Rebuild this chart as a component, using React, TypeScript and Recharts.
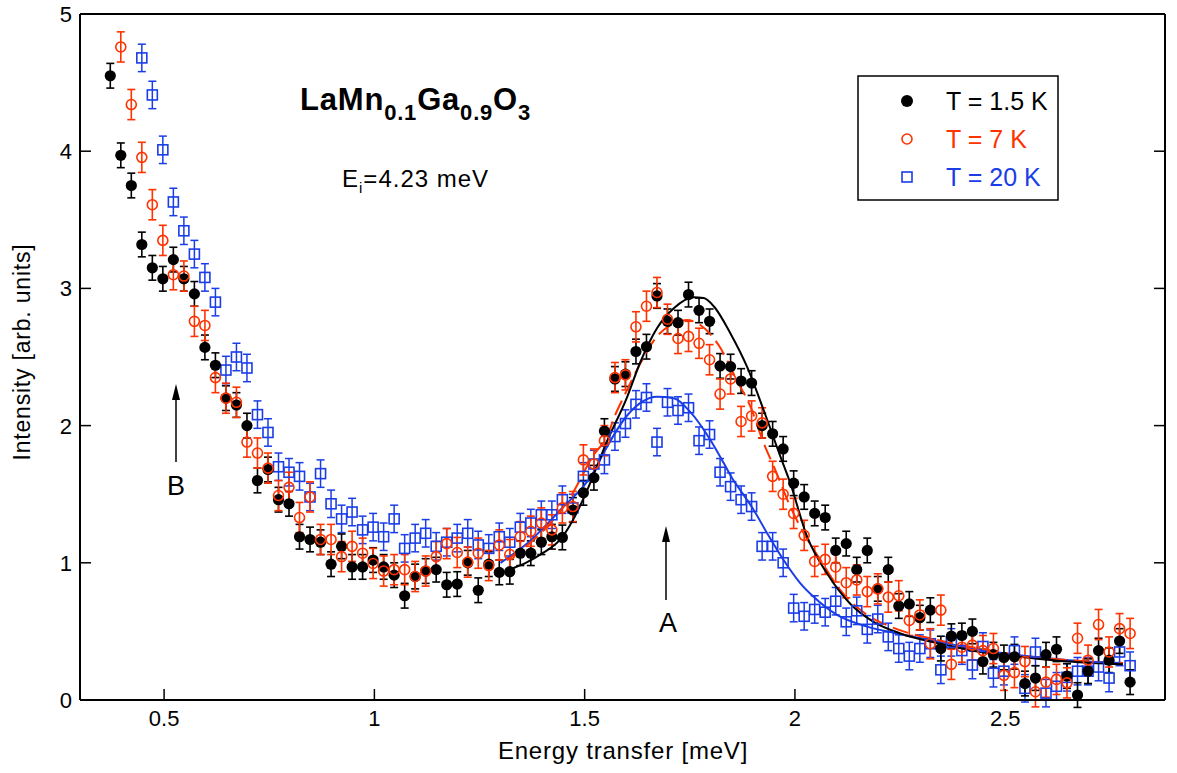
import React from 'react';
import { ComposedChart, Scatter, Line, XAxis, YAxis, ErrorBar } from 'recharts';

// energy grid (meV), shared by the three temperatures
const energy = [
  0.372, 0.397, 0.422, 0.447, 0.472, 0.497, 0.522, 0.547, 0.572, 0.597,
  0.622, 0.647, 0.672, 0.697, 0.722, 0.747, 0.772, 0.797, 0.822, 0.847,
  0.872, 0.897, 0.922, 0.947, 0.972, 0.997, 1.022, 1.047, 1.072, 1.097,
  1.122, 1.147, 1.172, 1.197, 1.222, 1.247, 1.272, 1.297, 1.322, 1.347,
  1.372, 1.397, 1.422, 1.447, 1.472, 1.497, 1.522, 1.547, 1.572, 1.597,
  1.622, 1.647, 1.672, 1.697, 1.722, 1.747, 1.772, 1.797, 1.822, 1.847,
  1.872, 1.897, 1.922, 1.947, 1.972, 1.997, 2.022, 2.047, 2.072, 2.097,
  2.122, 2.147, 2.172, 2.197, 2.222, 2.247, 2.272, 2.297, 2.322, 2.347,
  2.372, 2.397, 2.422, 2.447, 2.472, 2.497, 2.522, 2.547, 2.572, 2.597,
  2.622, 2.647, 2.672, 2.697, 2.722, 2.747, 2.772, 2.797,
];

// T = 1.5 K, starts at energy[0]
const intensity15K = [
  4.55, 3.97, 3.75, 3.32, 3.15, 3.07, 3.21, 3.07, 2.96, 2.57,
  2.44, 2.2, 2.15, 2.0, 1.6, 1.68, 1.46, 1.43, 1.19, 1.17,
  1.15, 0.99, 1.12, 0.97, 0.97, 1.02, 0.97, 0.91, 0.76, 0.9,
  0.94, 0.95, 0.84, 0.845, 1.0, 0.8, 0.99, 0.93, 0.935, 1.07,
  1.07, 1.15, 1.19, 1.185, 1.385, 1.51, 1.62, 1.96, 2.34, 2.375,
  2.54, 2.575, 2.945, 2.76, 2.75, 2.955, 2.84, 2.76, 2.435, 2.43,
  2.325, 2.31, 2.0, 1.94, 1.83, 1.58, 1.48, 1.36, 1.33, 1.09,
  1.14, 0.95, 1.09, 0.81, 0.95, 0.685, 0.7, 0.6, 0.655, 0.375,
  0.465, 0.47, 0.5, 0.28, 0.33, 0.31, 0.315, 0.12, 0.16, 0.33,
  0.37, 0.175, 0.036, 0.21, 0.36, 0.29, 0.43, 0.13,
];

// T = 7 K, starts at energy[1]
const intensity7K = [
  4.76, 4.34, 3.955, 3.61, 3.35, 3.1, 3.09, 2.76, 2.73,
  2.35, 2.2, 2.17, 1.88, 1.8, 1.69, 1.49, 1.55, 1.33, 1.48,
  1.17, 1.17, 1.045, 1.12, 1.07, 0.995, 0.94, 0.95, 0.95, 0.9,
  0.94, 1.045, 1.14, 1.075, 1.005, 1.07, 0.98, 1.13, 1.06, 1.19,
  1.23, 1.29, 1.24, 1.4, 1.41, 1.75, 1.72, 1.89, 2.35, 2.37,
  2.72, 2.87, 2.97, 2.775, 2.635, 2.65, 2.6, 2.48, 2.23, 2.34,
  2.03, 2.07, 2.02, 1.63, 1.5, 1.36, 1.2, 1.01, 1.025, 0.97,
  0.855, 0.875, 0.79, 0.81, 0.75, 0.76, 0.58, 0.62, 0.41, 0.655,
  0.26, 0.385, 0.4, 0.36, 0.375, 0.18, 0.2, 0.28, 0.06, 0.13,
  0.15, 0.125, 0.45, 0.29, 0.55, 0.35, 0.52, 0.485,
];

// T = 20 K, starts at energy[3]
const intensity20K = [
  4.68, 4.41, 4.01, 3.63, 3.42, 3.25, 3.08,
  2.9, 2.405, 2.5, 2.42, 2.08, 1.95, 1.7, 1.66, 1.63, 1.48,
  1.65, 1.43, 1.32, 1.37, 1.24, 1.26, 1.19, 1.32, 1.105, 1.18,
  1.215, 1.12, 1.15, 1.18, 1.215, 1.13, 1.105, 1.19, 1.15, 1.26,
  1.29, 1.35, 1.35, 1.46, 1.4, 1.63, 1.72, 1.75, 1.92, 2.015,
  2.155, 2.205, 1.88, 2.17, 2.11, 2.13, 1.89, 1.935, 1.66, 1.555,
  1.46, 1.41, 1.12, 1.12, 1.0, 0.67, 0.61, 0.66, 0.64, 0.72,
  0.57, 0.65, 0.515, 0.59, 0.46, 0.375, 0.32, 0.375, 0.41, 0.22,
  0.42, 0.36, 0.255, 0.39, 0.195, 0.21, 0.36, 0.085, 0.35, 0.05,
  0.1, 0.165, 0.21, 0.21, 0.24, 0.16, 0.35, 0.25,
];

const err15K = 0.09;
const err7K = 0.11;
const err20K = 0.1;

// fitted curves
const fit15KE = [1.32, 1.36, 1.4, 1.442, 1.47, 1.499, 1.525, 1.551, 1.6, 1.632, 1.672, 1.712, 1.759, 1.783, 1.807, 1.847, 1.886, 1.926, 1.966, 1.989, 2.029, 2.077, 2.132, 2.187, 2.251, 2.346, 2.441, 2.55, 2.65, 2.78];
const fit15KI = [0.95, 1.0, 1.07, 1.17, 1.3, 1.48, 1.67, 1.87, 2.2, 2.46, 2.71, 2.855, 2.935, 2.93, 2.87, 2.67, 2.43, 2.11, 1.77, 1.58, 1.19, 0.92, 0.7, 0.57, 0.485, 0.41, 0.35, 0.31, 0.28, 0.26];

const fit7KE = [1.315, 1.395, 1.466, 1.521, 1.553, 1.573, 1.593, 1.632, 1.672, 1.712, 1.743, 1.775, 1.82, 1.862, 1.894, 1.926, 1.95, 1.989, 2.021, 2.061, 2.108, 2.172, 2.227, 2.35, 2.45, 2.55, 2.65, 2.78];
const fit7KI = [1.02, 1.215, 1.48, 1.785, 1.92, 2.08, 2.21, 2.45, 2.65, 2.745, 2.77, 2.733, 2.58, 2.33, 2.14, 1.87, 1.7, 1.41, 1.215, 1.02, 0.8, 0.62, 0.535, 0.43, 0.37, 0.32, 0.29, 0.27];

const fit20KE = [1.3, 1.363, 1.442, 1.521, 1.545, 1.6, 1.64, 1.671, 1.712, 1.751, 1.799, 1.831, 1.851, 1.87, 1.902, 1.934, 1.973, 2.013, 2.045, 2.1, 2.172, 2.243, 2.35, 2.45, 2.55, 2.65, 2.78];
const fit20KI = [1.0, 1.14, 1.385, 1.66, 1.8, 2.07, 2.18, 2.21, 2.2, 2.1, 1.895, 1.725, 1.615, 1.53, 1.385, 1.215, 1.02, 0.85, 0.75, 0.62, 0.535, 0.485, 0.42, 0.36, 0.32, 0.29, 0.27];

const xTicks = [0.5, 1, 1.5, 2, 2.5];
const yTicks = [0, 1, 2, 3, 4, 5];

const BLACK = '#000000';
const RED = '#ff3300';
const BLUE = '#1a3de8';
const FONT = '"Liberation Sans", Arial, Helvetica, sans-serif';

const points = (vals: number[], start: number, err: number) =>
  vals.map((v, k) => ({ e: energy[start + k], v, err }));
const curve = (es: number[], vs: number[]) => es.map((e, k) => ({ e, v: vs[k] }));

const data15K = points(intensity15K, 0, err15K);
const data7K = points(intensity7K, 1, err7K);
const data20K = points(intensity20K, 3, err20K);

const BottomTick = (p: any) => (
  <g>
    <line x1={p.x} y1={p.y} x2={p.x} y2={p.y - 11} stroke={BLACK} strokeWidth={1.5} />
    <text x={p.x} y={p.y + 26} textAnchor="middle" fontSize={22} fontFamily={FONT} fill={BLACK}>
      {String(p.payload.value)}
    </text>
  </g>
);
const TopTick = (p: any) => (
  <line x1={p.x} y1={p.y} x2={p.x} y2={p.y + 11} stroke={BLACK} strokeWidth={1.5} />
);
const LeftTick = (p: any) => (
  <g>
    <line x1={p.x} y1={p.y} x2={p.x + 11} y2={p.y} stroke={BLACK} strokeWidth={1.5} />
    <text x={p.x - 8} y={p.y + 8} textAnchor="end" fontSize={22} fontFamily={FONT} fill={BLACK}>
      {String(p.payload.value)}
    </text>
  </g>
);
const RightTick = (p: any) => (
  <line x1={p.x} y1={p.y} x2={p.x - 11} y2={p.y} stroke={BLACK} strokeWidth={1.5} />
);

const Dot = (p: any) => <circle cx={p.cx} cy={p.cy} r={5.6} fill={BLACK} />;
const Ring = (p: any) => <circle cx={p.cx} cy={p.cy} r={5} fill="none" stroke={RED} strokeWidth={1.6} />;
const Box = (p: any) => (
  <rect x={p.cx - 5} y={p.cy - 5} width={10} height={10} fill="none" stroke={BLUE} strokeWidth={1.6} />
);

export default function App() {
  const axisLine = { stroke: BLACK, strokeWidth: 2 };
  return (
    <div style={{ position: 'absolute', left: 0, top: 0, width: 1177, height: 773, background: '#fff' }}>
      <ComposedChart width={1177} height={773} margin={{ top: 0, right: 0, bottom: 0, left: 0 }}>
        <XAxis
          xAxisId={0}
          dataKey="e"
          type="number"
          domain={[0.3, 2.88]}
          allowDataOverflow
          ticks={xTicks}
          height={73}
          tickSize={0}
          tickMargin={0}
          tickLine={false}
          axisLine={axisLine}
          tick={BottomTick}
        />
        <XAxis
          xAxisId="top"
          orientation="top"
          type="number"
          domain={[0.3, 2.88]}
          allowDataOverflow
          ticks={xTicks}
          height={14}
          tickSize={0}
          tickMargin={0}
          tickLine={false}
          axisLine={axisLine}
          tick={TopTick}
        />
        <YAxis
          yAxisId={0}
          dataKey="v"
          type="number"
          domain={[0, 5]}
          allowDataOverflow
          ticks={yTicks}
          width={80}
          tickSize={0}
          tickMargin={0}
          tickLine={false}
          axisLine={axisLine}
          tick={LeftTick}
        />
        <YAxis
          yAxisId="right"
          orientation="right"
          type="number"
          domain={[0, 5]}
          allowDataOverflow
          ticks={yTicks}
          width={12}
          tickSize={0}
          tickMargin={0}
          tickLine={false}
          axisLine={axisLine}
          tick={RightTick}
        />

        <Scatter data={data20K} dataKey="v" shape={Box} isAnimationActive={false}>
          <ErrorBar dataKey="err" direction="y" width={4} stroke={BLUE} strokeWidth={1.5} />
        </Scatter>
        <Scatter data={data15K} dataKey="v" shape={Dot} isAnimationActive={false}>
          <ErrorBar dataKey="err" direction="y" width={4} stroke={BLACK} strokeWidth={1.6} />
        </Scatter>
        <Scatter data={data7K} dataKey="v" shape={Ring} isAnimationActive={false}>
          <ErrorBar dataKey="err" direction="y" width={4} stroke={RED} strokeWidth={1.6} />
        </Scatter>

        <Line data={curve(fit20KE, fit20KI)} dataKey="v" type="monotone" stroke={BLUE} strokeWidth={2} dot={false} isAnimationActive={false} />
        <Line data={curve(fit7KE, fit7KI)} dataKey="v" type="monotone" stroke={RED} strokeWidth={2} strokeDasharray="16 7" dot={false} isAnimationActive={false} />
        <Line data={curve(fit15KE, fit15KI)} dataKey="v" type="monotone" stroke={BLACK} strokeWidth={2} dot={false} isAnimationActive={false} />
      </ComposedChart>

      <svg width={1177} height={773} style={{ position: 'absolute', left: 0, top: 0, pointerEvents: 'none' }} fontFamily={FONT}>
        <text x={300} y={110} fontSize={31} fontWeight="bold" fill={BLACK} letterSpacing={0.8}>
          LaMn<tspan fontSize={22} dy={10}>0.1</tspan>
          <tspan fontSize={31} dy={-10}>Ga</tspan>
          <tspan fontSize={22} dy={10}>0.9</tspan>
          <tspan fontSize={31} dy={-10}>O</tspan>
          <tspan fontSize={22} dy={10}>3</tspan>
        </text>
        <text x={342} y={187} fontSize={24} fill={BLACK} letterSpacing={1}>
          E<tspan fontSize={15} dy={6}>i</tspan>
          <tspan dy={-6}>=4.23 meV</tspan>
        </text>

        <line x1={176} y1={462} x2={176} y2={396} stroke={BLACK} strokeWidth={1.5} />
        <polygon points="176,384 172,400 180,400" fill={BLACK} />
        <text x={176} y={495} fontSize={27} textAnchor="middle" fill={BLACK}>B</text>

        <line x1={666} y1={600} x2={666} y2={538} stroke={BLACK} strokeWidth={1.5} />
        <polygon points="666,526 662,542 670,542" fill={BLACK} />
        <text x={668} y={632} fontSize={27} textAnchor="middle" fill={BLACK}>A</text>

        <rect x={858} y={76} width={200} height={124} fill="#fff" stroke={BLACK} strokeWidth={1.5} />
        <circle cx={907} cy={101} r={6} fill={BLACK} />
        <text x={946} y={110} fontSize={25} fill={BLACK}>T = 1.5 K</text>
        <circle cx={907} cy={139} r={5} fill="none" stroke={RED} strokeWidth={1.6} />
        <text x={946} y={148} fontSize={25} fill={RED}>T = 7 K</text>
        <rect x={902} y={172} width={10} height={10} fill="none" stroke={BLUE} strokeWidth={1.6} />
        <text x={946} y={186} fontSize={25} fill={BLUE}>T = 20 K</text>

        <text x={30} y={352} fontSize={23} textAnchor="middle" transform="rotate(-90 30 352)" fill={BLACK} letterSpacing={0.8}>
          Intensity [arb. units]
        </text>
        <text x={623} y={759} fontSize={24} textAnchor="middle" fill={BLACK} letterSpacing={0.8}>
          Energy transfer [meV]
        </text>
      </svg>
    </div>
  );
}
